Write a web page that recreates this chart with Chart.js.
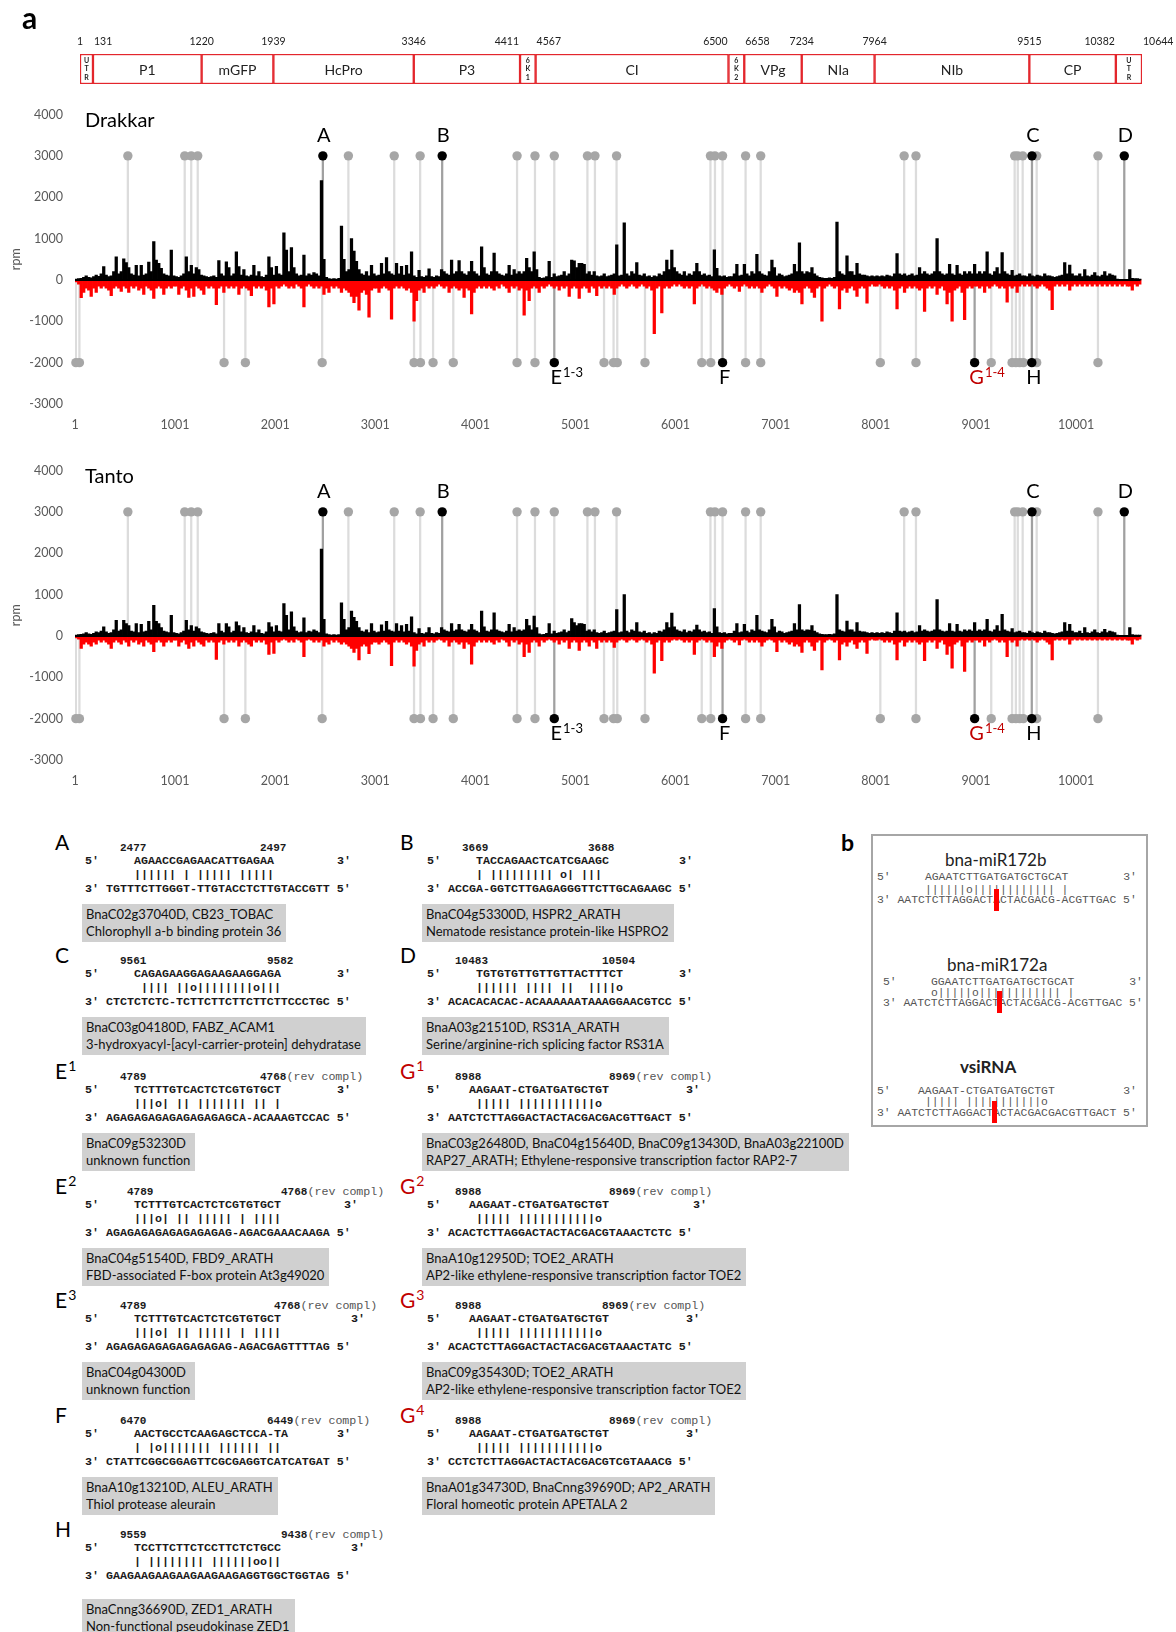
<!DOCTYPE html>
<html><head><meta charset="utf-8"><title>vsiRNA targets</title>
<script src="https://cdn.jsdelivr.net/npm/chart.js@4.4.1/dist/chart.umd.min.js"></script>
<style>
html,body{margin:0;padding:0;background:#fff;}
#page{position:relative;width:1176px;height:1632px;overflow:hidden;background:#fff;font-family:Lato,"Open Sans",sans-serif;color:#000;}
#page canvas{position:absolute;left:0;}
.t{position:absolute;white-space:pre;}
.mono{font-family:"Liberation Mono","Courier New",monospace;font-size:11.67px;line-height:14px;font-weight:bold;color:#1a1a1a;}
.num{font-family:"Liberation Mono","Courier New",monospace;font-size:11px;line-height:14px;font-weight:bold;color:#1a1a1a;}
.rev{font-weight:normal;color:#555;font-size:11.67px;}
.lab{font-size:21px;line-height:24px;}
.lab .s{font-size:14px;position:relative;top:-8px;margin-left:1px;}
.box{position:absolute;background:#d0d0d0;font-size:13px;line-height:16.5px;padding:2px 5px 3px 4px;white-space:pre;color:#111;}
.gmono{font-family:"Liberation Mono","Courier New",monospace;font-size:11.4px;line-height:14px;color:#555;}
</style></head>
<body><div id="page">
<canvas id="map" width="1176" height="60" style="top:30px"></canvas>
<canvas id="drk" width="1176" height="349" style="top:95px"></canvas>
<canvas id="tnt" width="1176" height="349" style="top:451px"></canvas>
<div class="t" style="left:22px;top:2px;font-size:30px;line-height:30px;font-weight:bold;">a</div>
<div class="t" style="left:841px;top:829px;font-size:23px;line-height:26px;font-weight:bold;">b</div>
<div style="position:absolute;left:871px;top:834px;width:273px;height:289px;border:2px solid #a6a6a6;"></div>
</div>
<script>
// ---------------- DATA ----------------
const mapBounds = [1,131,1220,1939,3346,4411,4567,6500,6658,7234,7964,9515,10382,10644];
const mapNames = ['UTR','P1','mGFP','HcPro','P3','6K1','CI','6K2','VPg','NIa','NIb','CP','UTR'];

const xTicks = [1,1001,2001,3001,4001,5001,6001,7001,8001,9001,10001];
const yTicks = [-3000,-2000,-1000,0,1000,2000,3000,4000];
const BIN = 25; // nt per bin, 40 bins per kb row

// Drakkar, sense (rpm), one row per kb
const drakkarSense = [
[20,30,40,60,100,60,50,80,120,90,150,320,120,80,100,200,560,150,200,510,420,300,150,120,350,100,350,120,150,430,200,930,480,400,280,150,120,100,720,100],
[80,60,100,150,560,200,350,150,300,250,120,100,80,60,80,100,60,470,150,100,440,300,100,150,680,320,120,250,100,80,120,350,100,200,80,60,120,560,300,120],
[330,150,120,1140,720,200,780,300,150,100,120,600,100,150,120,180,150,100,2400,500,60,30,20,30,20,40,1300,500,200,250,1000,700,450,250,150,120,200,100,350,150],
[100,120,400,150,540,200,150,120,400,150,330,120,350,150,680,100,60,230,80,60,100,270,80,60,100,80,250,200,150,120,480,150,200,470,200,150,120,200,450,200],
[150,100,800,300,150,120,200,650,200,150,120,100,150,350,120,250,150,200,150,200,520,300,200,680,250,60,40,50,80,450,60,150,80,100,120,200,100,150,480,460],
[300,400,400,380,150,200,120,200,100,80,100,150,80,100,120,150,850,100,120,1380,150,100,200,150,420,120,100,150,80,100,60,100,80,150,120,200,480,250,720,300],
[200,150,120,200,100,150,120,200,400,200,120,150,100,120,80,730,280,100,80,100,60,80,80,150,380,100,120,380,150,100,200,150,620,200,150,120,100,200,480,300],
[100,150,120,80,100,120,150,380,200,900,200,150,200,180,300,150,100,60,50,40,40,50,40,60,1400,200,150,120,580,200,200,120,400,150,120,120,100,80,100,80],
[100,80,100,80,120,100,80,150,640,150,120,150,100,120,150,100,120,300,150,200,150,120,150,200,1000,200,150,120,150,380,150,120,350,150,120,200,150,200,150,380],
[150,200,150,200,680,150,120,200,300,150,660,200,150,120,230,100,120,150,100,100,80,150,100,80,120,100,80,150,100,100,80,60,80,100,120,420,150,360,150,100],
[100,150,80,250,100,80,120,180,100,80,120,200,100,150,120,100,20,10,10,10,10,250,40,30,30,20]
];
// Drakkar, antisense (rpm)
const drakkarAnti = [
[-50,-100,-430,-300,-200,-250,-400,-200,-300,-150,-200,-150,-200,-250,-380,-200,-150,-200,-280,-150,-200,-300,-150,-200,-150,-250,-200,-350,-150,-200,-250,-450,-200,-150,-200,-350,-200,-150,-200,-150],
[-150,-350,-200,-150,-250,-420,-200,-400,-150,-200,-250,-350,-150,-200,-150,-200,-600,-200,-150,-300,-150,-200,-150,-200,-150,-350,-200,-150,-200,-250,-380,-150,-200,-150,-200,-150,-250,-650,-200,-580],
[-150,-200,-150,-100,-150,-200,-150,-200,-100,-150,-200,-650,-150,-100,-150,-200,-150,-200,-150,-350,-200,-300,-150,-200,-150,-200,-300,-200,-250,-300,-400,-550,-400,-730,-300,-250,-350,-900,-250,-200],
[-200,-300,-200,-150,-200,-250,-950,-200,-150,-200,-150,-200,-250,-200,-300,-1000,-500,-250,-200,-300,-150,-200,-150,-200,-150,-100,-150,-200,-150,-300,-200,-150,-200,-250,-200,-420,-200,-250,-820,-300],
[-200,-150,-200,-150,-200,-150,-200,-250,-150,-200,-100,-150,-200,-300,-150,-200,-150,-250,-200,-850,-250,-500,-200,-150,-200,-300,-150,-200,-150,-100,-150,-200,-150,-250,-150,-200,-150,-400,-200,-150],
[-200,-450,-200,-150,-200,-300,-150,-200,-380,-150,-200,-150,-200,-150,-200,-350,-200,-150,-100,-150,-200,-150,-100,-150,-200,-150,-100,-150,-200,-150,-250,-1300,-200,-150,-800,-200,-150,-200,-150,-100],
[-150,-100,-150,-200,-150,-200,-150,-580,-200,-150,-100,-150,-200,-150,-200,-250,-300,-200,-350,-200,-150,-100,-150,-200,-150,-280,-150,-100,-150,-200,-150,-200,-150,-200,-300,-200,-150,-100,-150,-200],
[-400,-150,-200,-150,-200,-250,-200,-300,-250,-300,-580,-200,-150,-200,-300,-420,-200,-150,-1000,-200,-150,-100,-150,-200,-150,-700,-250,-200,-300,-200,-150,-250,-400,-200,-150,-200,-560,-150,-100,-150],
[-150,-100,-150,-200,-150,-200,-150,-250,-700,-200,-150,-300,-200,-150,-200,-150,-200,-250,-200,-760,-200,-150,-200,-150,-350,-200,-150,-250,-580,-300,-1000,-250,-200,-150,-300,-960,-200,-150,-200,-150],
[-150,-200,-150,-300,-150,-200,-150,-100,-150,-200,-150,-200,-540,-150,-200,-150,-300,-150,-100,-150,-100,-150,-100,-150,-200,-150,-100,-150,-200,-250,-720,-150,-100,-150,-100,-150,-100,-250,-150,-100],
[-150,-100,-150,-100,-150,-100,-150,-100,-150,-100,-150,-100,-150,-100,-150,-100,-150,-100,-150,-100,-150,-150,-250,-100,-150,-100]
];
// Tanto, sense (rpm)
const tantoSense = [
[20,30,40,50,80,50,40,60,100,80,120,220,100,60,80,150,380,120,150,380,300,250,120,100,300,80,280,100,120,350,150,740,350,300,200,120,100,80,500,80],
[60,50,80,120,380,150,250,120,220,180,100,80,60,50,60,80,50,300,120,80,300,220,80,120,340,250,100,200,80,60,100,250,80,150,60,50,100,320,220,100],
[250,120,100,780,500,150,580,220,120,80,100,440,80,120,100,150,120,80,2100,400,50,30,20,30,20,30,800,400,150,200,600,450,350,200,120,100,150,80,300,120],
[80,100,270,120,350,150,120,100,300,120,250,100,280,120,460,80,50,180,60,50,80,200,60,50,80,60,200,150,120,100,300,120,150,280,150,120,100,150,280,150],
[120,80,600,220,120,100,150,560,150,120,100,80,120,280,100,200,120,150,120,150,400,250,150,480,200,50,30,40,60,300,50,120,60,80,100,150,80,120,420,320],
[250,300,300,280,120,150,100,150,80,60,80,120,60,80,100,120,640,80,100,1000,120,80,150,120,320,100,80,120,60,80,50,80,60,120,100,150,320,200,550,220],
[150,120,100,150,80,120,100,150,260,150,100,120,80,100,60,660,220,80,60,80,50,60,60,120,300,80,100,280,120,80,150,120,500,150,120,100,80,150,400,220],
[80,120,100,60,80,100,120,300,150,760,150,120,150,140,250,120,80,50,40,30,30,40,30,50,1000,150,120,100,360,150,150,100,320,120,100,100,80,60,80,60],
[80,60,80,60,100,80,60,120,560,120,100,120,80,100,120,80,100,250,120,150,120,100,120,150,880,150,120,100,120,300,120,100,280,120,100,150,120,150,120,320],
[120,150,120,150,400,120,100,150,250,120,520,150,120,100,180,80,100,120,80,80,60,120,80,60,100,80,60,120,80,80,60,50,60,80,100,320,120,280,120,80],
[80,120,60,200,80,60,100,150,80,60,100,160,80,120,100,80,20,10,10,10,10,200,30,20,20,20]
];
// Tanto, antisense (rpm)
const tantoAnti = [
[-50,-80,-300,-200,-150,-200,-250,-150,-200,-100,-150,-100,-150,-200,-300,-150,-100,-150,-200,-100,-150,-250,-100,-150,-100,-200,-150,-250,-100,-150,-200,-380,-150,-100,-150,-250,-150,-100,-150,-100],
[-100,-250,-150,-100,-200,-300,-150,-250,-100,-150,-200,-250,-100,-150,-100,-150,-570,-150,-100,-200,-100,-150,-100,-150,-100,-250,-150,-100,-150,-200,-250,-100,-150,-100,-150,-100,-200,-450,-150,-420],
[-100,-150,-100,-80,-100,-150,-100,-150,-80,-100,-150,-500,-100,-80,-100,-150,-100,-150,-100,-250,-150,-200,-100,-150,-100,-150,-200,-150,-200,-250,-300,-400,-300,-580,-250,-200,-250,-430,-200,-150],
[-150,-200,-150,-100,-150,-200,-720,-150,-100,-150,-100,-150,-200,-150,-250,-730,-350,-200,-150,-250,-100,-150,-100,-150,-100,-80,-100,-150,-100,-250,-150,-100,-150,-200,-150,-300,-150,-200,-680,-250],
[-150,-100,-150,-100,-150,-100,-150,-200,-100,-150,-80,-100,-150,-250,-100,-150,-100,-200,-150,-500,-200,-400,-150,-100,-150,-250,-100,-150,-100,-80,-100,-150,-100,-200,-100,-150,-100,-300,-150,-100],
[-150,-350,-150,-100,-150,-250,-100,-150,-300,-100,-150,-100,-150,-100,-150,-280,-150,-100,-80,-100,-150,-100,-80,-100,-150,-100,-80,-100,-150,-100,-200,-900,-150,-100,-600,-150,-100,-150,-100,-80],
[-100,-80,-100,-150,-100,-150,-100,-450,-150,-100,-80,-100,-150,-100,-150,-500,-250,-150,-300,-150,-100,-80,-100,-150,-100,-220,-100,-80,-100,-150,-100,-150,-100,-150,-250,-150,-100,-80,-100,-150],
[-380,-100,-150,-100,-150,-200,-150,-250,-200,-250,-400,-150,-100,-150,-250,-350,-150,-100,-820,-150,-100,-80,-100,-150,-100,-580,-200,-150,-250,-150,-100,-200,-300,-150,-100,-150,-420,-100,-80,-100],
[-100,-80,-100,-150,-100,-150,-100,-200,-580,-150,-100,-250,-150,-100,-150,-100,-150,-200,-150,-600,-150,-100,-150,-100,-300,-150,-100,-200,-450,-250,-780,-200,-150,-100,-250,-860,-150,-100,-150,-100],
[-100,-150,-100,-250,-100,-150,-100,-80,-100,-150,-100,-150,-500,-100,-150,-100,-250,-100,-80,-100,-80,-100,-80,-100,-150,-100,-80,-100,-150,-200,-580,-100,-80,-100,-80,-100,-80,-200,-100,-80],
[-100,-80,-100,-80,-100,-80,-100,-80,-100,-80,-100,-80,-100,-80,-100,-80,-100,-80,-100,-80,-100,-100,-200,-80,-100,-80]
];

// predicted target sites (genome position); markers placed at these rpm levels
const DOT_TOP = 3000, DOT_BOTTOM = -2000;
const topGrayPos = [529,1097,1162,1227,2732,3190,3449,4417,4596,4789,5120,5195,5411,6349,6394,6470,6700,6851,8284,8402,9388,9419,9468,9608,10220];
const bottomGrayPos = [10,45,1490,1703,2470,3388,3452,3578,3780,4417,4596,5286,5381,5418,5695,6262,6352,6700,6851,8046,8402,9154,9362,9400,9438,9475,9608,10220];
const topBlackPos = [2477,3669,9561,10483];
const topLetters = ['A','B','C','D'];
const bottomBlackPos = [4789,6470,8988,9559];
const bottomLetters = ['E','F','G','H'];
const bottomSups = ['1-3','','1-4',''];

// ---------------- CHARTS ----------------
const FONT = 'Lato';
const mapAlign = ['center','left','center','center','center','right','left','right','left','center','center','center','right','left'];
const mapPlugin = {
  id:'mapLabels',
  afterDatasetsDraw(chart){
    const {ctx, chartArea:ca, scales:{x}} = chart;
    ctx.save();
    ctx.fillStyle = '#222'; ctx.textBaseline = 'middle'; ctx.textAlign = 'center';
    const cy = (ca.top + ca.bottom)/2;
    mapNames.forEach((n,i)=>{
      const x0 = x.getPixelForValue(mapBounds[i]), x1 = x.getPixelForValue(mapBounds[i+1]);
      const cx = (x0+x1)/2;
      if (x1 - x0 < 28) {
        ctx.font = 'bold 7px ' + FONT;
        n.split('').forEach((c,k)=>ctx.fillText(c, cx, cy + (k-1)*8.5));
      } else {
        ctx.font = '14px ' + FONT;
        ctx.fillText(n, cx, cy + 1);
      }
    });
    ctx.font = '10.5px ' + FONT; ctx.fillStyle = '#222';
    mapBounds.forEach((b,i)=>{
      const a = mapAlign[i]; ctx.textAlign = a;
      const px = x.getPixelForValue(b) + (a==='left'?1:(a==='right'?-1:0));
      ctx.fillText(String(b), px, ca.top - 12);
    });
    ctx.restore();
  }
};
new Chart(document.getElementById('map'), {
  type:'bar',
  data:{datasets:[{
    data: mapNames.map((n,i)=>({x:[mapBounds[i], mapBounds[i+1]], y:0.5})),
    backgroundColor:'#fff', borderColor:'#e3262c', borderWidth:1.5, borderSkipped:false,
    barThickness:30, grouped:false
  }]},
  options:{
    indexAxis:'y', responsive:false, animation:false, devicePixelRatio:1,
    layout:{padding:{left:80,right:34,top:24,bottom:6}},
    plugins:{legend:{display:false}, tooltip:{enabled:false}},
    scales:{x:{type:'linear',min:1,max:10644,display:false}, y:{type:'linear',min:0,max:1,display:false,offset:false}}
  },
  plugins:[mapPlugin]
});

const annotPlugin = {
  id:'annot',
  afterDatasetsDraw(chart, args, opts){
    const {ctx, chartArea:ca, scales:{x,y}} = chart;
    ctx.save();
    ctx.textBaseline = 'middle';
    ctx.fillStyle = '#000'; ctx.font = '20px ' + FONT; ctx.textAlign = 'left';
    ctx.fillText(opts.title, ca.left + 10, ca.top + 6);
    ctx.textAlign = 'center';
    topLetters.forEach((l,i)=>{
      ctx.fillText(l, x.getPixelForValue(topBlackPos[i]) + 1, y.getPixelForValue(DOT_TOP) - 20);
    });
    bottomLetters.forEach((l,i)=>{
      const px = x.getPixelForValue(bottomBlackPos[i]) + 2;
      const py = y.getPixelForValue(DOT_BOTTOM) + 15;
      ctx.fillStyle = (l === 'G') ? '#c00000' : '#000';
      ctx.font = '20px ' + FONT; ctx.textAlign = 'center';
      ctx.fillText(l, px, py);
      if (bottomSups[i]) {
        const w = ctx.measureText(l).width;
        ctx.font = '13px ' + FONT; ctx.textAlign = 'left';
        ctx.fillText(bottomSups[i], px + w/2 + 1, py - 5);
      }
    });
    ctx.restore();
  }
};

function rowsToPoints(rows){
  const pts = [];
  rows.forEach((r,k)=>r.forEach((v,j)=>pts.push({x: k*1000 + j*BIN + 13, y: v})));
  return pts;
}

function makeChart(id, title, sense, anti){
  const tickFont = {family:FONT, size:12.5};
  new Chart(document.getElementById(id), {
    type:'bar',
    data:{datasets:[
      {type:'line', data: topBlackPos.map(p=>({x:p,y:DOT_TOP})).concat(bottomBlackPos.map(p=>({x:p,y:DOT_BOTTOM}))),
        showLine:false, pointRadius:4.7, pointBackgroundColor:'#000', pointBorderWidth:0, clip:false, order:0},
      {type:'line', data: topGrayPos.map(p=>({x:p,y:DOT_TOP})).concat(bottomGrayPos.map(p=>({x:p,y:DOT_BOTTOM}))),
        showLine:false, pointRadius:4.7, pointBackgroundColor:'#a6a6a6', pointBorderWidth:0, clip:false, order:0.5},
      {type:'line', data:[{x:1,y:0},{x:10644,y:0}], borderColor:'#000', borderWidth:2, pointRadius:0, order:1},
      {type:'bar', data: rowsToPoints(sense), backgroundColor:'#000', barThickness:2.6, grouped:false, order:2},
      {type:'bar', data: rowsToPoints(anti), backgroundColor:'#ff0000', barThickness:2.6, grouped:false, order:2},
      {type:'bar', data: topBlackPos.map(p=>({x:p,y:[0,DOT_TOP]})).concat(bottomBlackPos.map(p=>({x:p,y:[DOT_BOTTOM,0]}))),
        backgroundColor:'#a0a0a0', barThickness:1.6, grouped:false, order:3},
      {type:'bar', data: topGrayPos.map(p=>({x:p,y:[0,DOT_TOP]})).concat(bottomGrayPos.map(p=>({x:p,y:[DOT_BOTTOM,0]}))),
        backgroundColor:'#dcdcdc', barThickness:1.6, grouped:false, order:4}
    ]},
    options:{
      responsive:false, animation:false, devicePixelRatio:1,
      layout:{padding:{top:15,right:30,left:0,bottom:0}},
      plugins:{legend:{display:false}, tooltip:{enabled:false}, annot:{title}},
      scales:{
        x:{type:'linear', min:1, max:10700, offset:false,
           grid:{display:false, drawTicks:false}, border:{display:false},
           afterBuildTicks:s=>{ s.ticks = xTicks.map(v=>({value:v})); },
           afterFit:s=>{ s.height = 40; },
           ticks:{padding:13, color:'#595959', font:tickFont, maxRotation:0, autoSkip:false, callback:v=>String(v)}},
        y:{min:-3000, max:4000,
           grid:{display:false, drawTicks:false}, border:{display:false},
           afterBuildTicks:s=>{ s.ticks = yTicks.map(v=>({value:v})); },
           afterFit:s=>{ s.width = 75; },
           ticks:{padding:12, color:'#595959', font:tickFont, callback:v=>String(v)},
           title:{display:true, text:'rpm', color:'#595959', font:tickFont, padding:{top:8,bottom:0}}}
      }
    },
    plugins:[annotPlugin]
  });
}
makeChart('drk', 'Drakkar', drakkarSense, drakkarAnti);
makeChart('tnt', 'Tanto', tantoSense, tantoAnti);

// ---------------- ALIGNMENT PANELS (text) ----------------
const alignTexts = [
 {label:'A', sup:'', n1:'2477', n2:'2497', rev:false, top:'AGAACCGAGAACATTGAGAA', bars:'|||||| | ||||| |||||', bottom:'TGTTTCTTGGGT-TTGTACCTCTTGTACCGTT', d:['BnaC02g37040D, CB23_TOBAC','Chlorophyll a-b binding protein 36']},
 {label:'B', sup:'', n1:'3669', n2:'3688', rev:false, top:'TACCAGAACTCATCGAAGC', bars:'| ||||||||| o| |||', bottom:'ACCGA-GGTCTTGAGAGGGTTCTTGCAGAAGC', d:['BnaC04g53300D, HSPR2_ARATH','Nematode resistance protein-like HSPRO2']},
 {label:'C', sup:'', n1:'9561', n2:'9582', rev:false, top:'CAGAGAAGGAGAAGAAGGAGA', bars:'|||| ||o||||||||o|||', bottom:'CTCTCTCTC-TCTTCTTCTTCTTCTTCCCTGC', d:['BnaC03g04180D, FABZ_ACAM1','3-hydroxyacyl-[acyl-carrier-protein] dehydratase']},
 {label:'D', sup:'', n1:'10483', n2:'10504', rev:false, top:'TGTGTGTTGTTGTTACTTTCT', bars:'|||||| |||| ||  ||||o', bottom:'ACACACACAC-ACAAAAAATAAAGGAACGTCC', d:['BnaA03g21510D, RS31A_ARATH','Serine/arginine-rich splicing factor RS31A']},
 {label:'E', sup:'1', n1:'4789', n2:'4768', rev:true, top:'TCTTTGTCACTCTCGTGTGCT', bars:'|||o| || ||||||| || |', bottom:'AGAGAGAGAGAGAGAGAGCA-ACAAAGTCCAC', d:['BnaC09g53230D','unknown function']},
 {label:'E', sup:'2', n1:'4789', n2:'4768', rev:true, top:'TCTTTGTCACTCTCGTGTGCT', bars:'|||o| || ||||| | ||||', bottom:'AGAGAGAGAGAGAGAGAG-AGACGAAACAAGA', d:['BnaC04g51540D, FBD9_ARATH','FBD-associated F-box protein At3g49020']},
 {label:'E', sup:'3', n1:'4789', n2:'4768', rev:true, top:'TCTTTGTCACTCTCGTGTGCT', bars:'|||o| || ||||| | ||||', bottom:'AGAGAGAGAGAGAGAGAG-AGACGAGTTTTAG', d:['BnaC04g04300D','unknown function']},
 {label:'F', sup:'', n1:'6470', n2:'6449', rev:true, top:'AACTGCCTCAAGAGCTCCA-TA', bars:'| |o||||||| |||||| ||', bottom:'CTATTCGGCGGAGTTCGCGAGGTCATCATGAT', d:['BnaA10g13210D, ALEU_ARATH','Thiol protease aleurain']},
 {label:'H', sup:'', n1:'9559', n2:'9438', rev:true, top:'TCCTTCTTCTCCTTCTCTGCC', bars:'| |||||||| ||||||oo||', bottom:'GAAGAAGAAGAAGAAGAAGAGGTGGCTGGTAG', d:['BnaCnng36690D, ZED1_ARATH','Non-functional pseudokinase ZED1']},
 {label:'G', sup:'1', n1:'8988', n2:'8969', rev:true, top:'AAGAAT-CTGATGATGCTGT', bars:'||||| |||||||||||o', bottom:'AATCTCTTAGGACTACTACGACGACGTTGACT', d:['BnaC03g26480D, BnaC04g15640D, BnaC09g13430D, BnaA03g22100D','RAP27_ARATH; Ethylene-responsive transcription factor RAP2-7']},
 {label:'G', sup:'2', n1:'8988', n2:'8969', rev:true, top:'AAGAAT-CTGATGATGCTGT', bars:'||||| |||||||||||o', bottom:'ACACTCTTAGGACTACTACGACGTAAACTCTC', d:['BnaA10g12950D; TOE2_ARATH','AP2-like ethylene-responsive transcription factor TOE2']},
 {label:'G', sup:'3', n1:'8988', n2:'8969', rev:true, top:'AAGAAT-CTGATGATGCTGT', bars:'||||| |||||||||||o', bottom:'ACACTCTTAGGACTACTACGACGTAAACTATC', d:['BnaC09g35430D; TOE2_ARATH','AP2-like ethylene-responsive transcription factor TOE2']},
 {label:'G', sup:'4', n1:'8988', n2:'8969', rev:true, top:'AAGAAT-CTGATGATGCTGT', bars:'||||| |||||||||||o', bottom:'CCTCTCTTAGGACTACTACGACGTCGTAAACG', d:['BnaA01g34730D, BnaCnng39690D; AP2_ARATH','Floral homeotic protein APETALA 2']}
];
// layout: side (column), row, number columns, top-strand column, 3' column, bars column, box offset
const alignLayout = [
 {side:0,row:0,c1:5,c2:25,tc:7,t3:36,bc:7,bd:56},
 {side:1,row:0,c1:5,c2:23,tc:7,t3:36,bc:7,bd:56},
 {side:0,row:1,c1:5,c2:26,tc:7,t3:36,bc:8,bd:56},
 {side:1,row:1,c1:4,c2:25,tc:7,t3:36,bc:7,bd:56},
 {side:0,row:2,c1:5,c2:25,tc:7,t3:36,bc:7,bd:56},
 {side:0,row:3,c1:6,c2:28,tc:7,t3:37,bc:7,bd:56},
 {side:0,row:4,c1:5,c2:27,tc:7,t3:38,bc:7,bd:56},
 {side:0,row:5,c1:5,c2:26,tc:7,t3:36,bc:7,bd:56},
 {side:0,row:6,c1:5,c2:28,tc:7,t3:38,bc:7,bd:64},
 {side:1,row:2,c1:4,c2:26,tc:6,t3:37,bc:7,bd:56},
 {side:1,row:3,c1:4,c2:26,tc:6,t3:38,bc:7,bd:56},
 {side:1,row:4,c1:4,c2:25,tc:6,t3:37,bc:7,bd:56},
 {side:1,row:5,c1:4,c2:26,tc:6,t3:37,bc:7,bd:56}
];
const CW = 7;
const rowY = [848, 961, 1077, 1192, 1306, 1421, 1535];
const sideX = [85, 427], labX = [55, 400], boxX = [82, 422];
const page = document.getElementById('page');
function el(x, yc, html, cls, lh, color){
  const d = document.createElement('div');
  d.className = 't ' + cls;
  d.style.left = x + 'px'; d.style.top = (yc - lh/2) + 'px';
  d.innerHTML = html;
  if (color) d.style.color = color;
  page.appendChild(d); return d;
}
const esc = s => s.replace(/</g,'&lt;');
alignTexts.forEach((a,i)=>{
  const L = alignLayout[i];
  const y0 = rowY[L.row], bx = sideX[L.side];
  el(labX[L.side], y0 - 6, a.label + (a.sup ? '<span class="s">'+a.sup+'</span>' : ''), 'lab', 24, a.label==='G' ? '#c00000' : '#000');
  el(bx + L.c1*CW, y0, a.n1, 'num', 14);
  el(bx + L.c2*CW, y0, a.n2 + (a.rev ? '<span class="rev">(rev compl)</span>' : ''), 'num', 14);
  el(bx, y0 + 13, "5'", 'mono', 14);
  el(bx + L.tc*CW, y0 + 13, a.top, 'mono', 14);
  el(bx + L.t3*CW, y0 + 13, "3'", 'mono', 14);
  el(bx + L.bc*CW, y0 + 27, esc(a.bars), 'mono', 14);
  el(bx, y0 + 41, "3' " + a.bottom + " 5'", 'mono', 14);
  const box = document.createElement('div');
  box.className = 'box';
  box.style.left = boxX[L.side] + 'px';
  box.style.top = (y0 + L.bd) + 'px';
  box.textContent = a.d.join('\n');
  page.appendChild(box);
});

// panel b
const bTexts = [
 {title:'bna-miR172b', bold:false, top:'AGAATCTTGATGATGCTGCAT', bars:'||||||o|||||||||||| |', bottom:'AATCTCTTAGGACTACTACGACG-ACGTTGAC'},
 {title:'bna-miR172a', bold:false, top:'GGAATCTTGATGATGCTGCAT', bars:'o|||||o|||||||||||| |', bottom:'AATCTCTTAGGACTACTACGACG-ACGTTGAC'},
 {title:'vsiRNA', bold:true, top:'AAGAAT-CTGATGATGCTGT', bars:'||||| |||||||||||o', bottom:'AATCTCTTAGGACTACTACGACGACGTTGACT'}
];
const BCW = 6.84;
const bLayout = [
 {bx:877, tx:945, ty:860, y5:877, yb:890, y3:900, tc:7, t3:36, bc:7, cut:996, cutTop:889},
 {bx:883, tx:947, ty:965, y5:982, yb:993, y3:1003, tc:7, t3:36, bc:7, cut:999, cutTop:991},
 {bx:877, tx:960, ty:1067, y5:1091, yb:1102, y3:1113, tc:6, t3:36, bc:7, cut:994, cutTop:1101}
];
bTexts.forEach((b,i)=>{
  const L = bLayout[i];
  const t = el(L.tx, L.ty, b.title, '', 20, '#222');
  t.style.fontSize = '17px'; t.style.lineHeight = '20px'; if (b.bold) t.style.fontWeight = 'bold';
  el(L.bx, L.y5, "5'", 'gmono', 14);
  el(L.bx + L.tc*BCW, L.y5, b.top, 'gmono', 14);
  el(L.bx + L.t3*BCW, L.y5, "3'", 'gmono', 14);
  el(L.bx + L.bc*BCW, L.yb, esc(b.bars), 'gmono', 14);
  el(L.bx, L.y3, "3' " + b.bottom + " 5'", 'gmono', 14);
  const r = document.createElement('div');
  r.style.cssText = 'position:absolute;width:5px;height:22px;background:#ff0000;';
  r.style.left = (L.cut - 2.5) + 'px'; r.style.top = L.cutTop + 'px';
  page.appendChild(r);
});
</script>
</body></html>
